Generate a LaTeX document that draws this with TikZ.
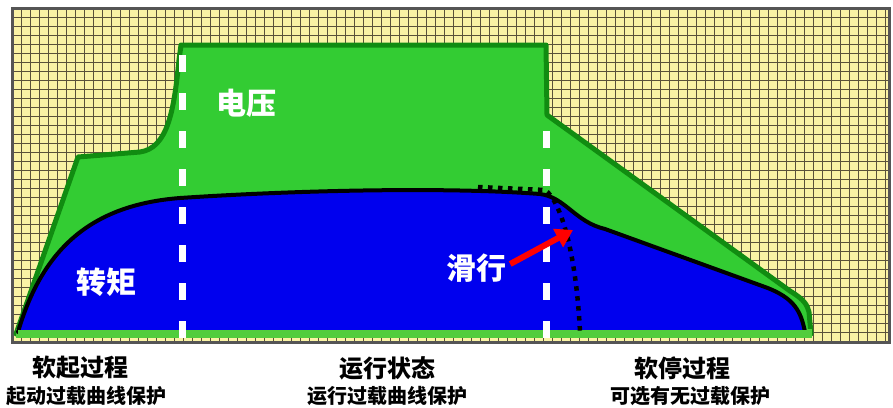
\documentclass[tikz,border=0pt]{standalone}
\usepackage{fontspec}
\newfontfamily\cjk{Noto Sans CJK SC}
\usetikzlibrary{arrows.meta}
\definecolor{gridyellow}{RGB}{250,243,165}
\definecolor{gridline}{RGB}{90,82,58}
\definecolor{framegray}{RGB}{85,85,85}
\definecolor{vfill}{RGB}{51,204,51}
\definecolor{vline}{RGB}{17,140,17}
\definecolor{tfill}{RGB}{0,0,238}
\definecolor{strip}{RGB}{80,205,60}
\tikzset{
  gridln/.style={draw=gridline, line width=0.9pt},
  whitedash/.style={draw=white, line width=7pt, dash pattern=on 17pt off 21pt},
  biglabel/.style={text=white, font=\cjk\bfseries\fontsize{30}{30}\selectfont, inner sep=0pt},
  phase/.style={text=black, font=\cjk\bfseries\fontsize{24}{24}\selectfont, inner sep=0pt},
  note/.style={text=black, font=\cjk\bfseries\fontsize{20}{20}\selectfont, inner sep=0pt},
}
\begin{document}
\begin{tikzpicture}[x=1pt,y=-1pt]
\useasboundingbox (0,0) rectangle (893,407);
\fill[white] (0,0) rectangle (893,407);
% grid background
\fill[gridyellow] (12,8) rectangle (889,342);
\foreach \x in {21,30,...,885} \draw[gridln] (\x,8) -- (\x,342);
\foreach \y in {17,26,...,340} \draw[gridln] (12,\y) -- (889,\y);
\draw[framegray, line width=3pt] (12,8) rectangle (889,342);
% voltage region
\filldraw[fill=vfill, draw=vline, line width=5pt, line join=round]
  (16,334) -- (78,157) -- (140,152)
  .. controls (168,148) and (174,110) .. (179,60) -- (181,45) -- (546,45)
  -- (547,115) -- (790,291) .. controls (805,300) and (807,305) .. (809,312)
  -- (811,334) -- cycle;
% bottom strip
\fill[strip] (16,329) rectangle (812,338);
% torque region
\filldraw[fill=tfill, draw=black, line width=4pt, line join=round]
  (18,332) .. controls (42,250) and (90,205) .. (180,198)
  .. controls (300,190) and (450,187) .. (540,194)
  .. controls (565,197) and (575,222) .. (605,229)
  -- (765,287) .. controls (795,298) and (801,312) .. (805,332) -- cycle;
\fill[strip] (18,330) rectangle (810,337);
% coasting dotted line
\draw[black, line width=4.5pt, dash pattern=on 4.5pt off 5.5pt]
  (478,187) -- (545,190) .. controls (560,200) and (576,250) .. (580,332);
% phase separators
\coordinate (s1top) at (182,55);
\coordinate (s1bot) at (182,342);
\coordinate (s2top) at (546,131);
\coordinate (s2bot) at (546,342);
\draw[whitedash] (s1top) -- (s1bot);
\draw[whitedash] (s2top) -- (s2bot);
% labels
\node[biglabel] (volt) at (246,103) {电压};
\node[biglabel] (torq) at (106,282) {转矩};
\node[biglabel] (slide) at (476,268) {滑行};
\coordinate (arrowhead) at (573,230);
\draw[red, line width=6pt, -{Triangle[length=17pt,width=20pt]}]
  (slide.east) ++(4,-4) -- (arrowhead);
\node[phase] (p1) at (80,368) {软起过程};
\node[note]  (n1) at (86,396) {起动过载曲线保护};
\node[phase] (p2) at (387,368) {运行状态};
\node[note]  (n2) at (387,396) {运行过载曲线保护};
\node[phase] (p3) at (682,368) {软停过程};
\node[note]  (n3) at (690,396) {可选有无过载保护};
\end{tikzpicture}
\end{document}
